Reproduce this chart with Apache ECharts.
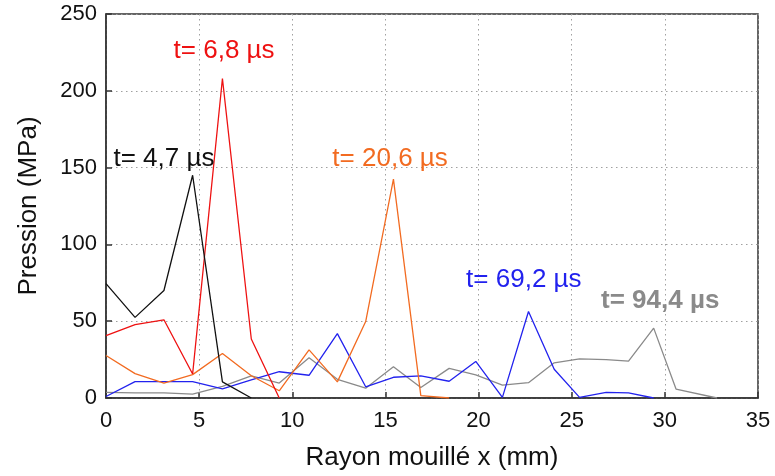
<!DOCTYPE html>
<html>
<head>
<meta charset="utf-8">
<script src="https://cdn.jsdelivr.net/npm/echarts@6/dist/echarts.min.js"></script>
<style>
  html, body { margin: 0; padding: 0; background: #fff; }
  #chart { width: 775px; height: 476px; }
</style>
</head>
<body>
<div id="chart"></div>
<script>
// Wetted radius positions (mm), shared by all time steps
const xs = [0, 1.56, 3.11, 4.65, 6.25, 7.8, 9.3, 10.9, 12.42, 13.94, 15.43, 16.9,
            18.42, 19.85, 21.28, 22.68, 24.06, 25.42, 26.85, 28.05, 29.4, 30.6, 32.8];

// Pressure (MPa) at each position, one array per time step
const p47 = [74.5, 52.5, 70, 145, 10.5, 0];
const p68 = [40.6, 47.8, 50.9, 15.6, 208, 38.4, 0];
const p206 = [27.7, 15.9, 9.7, 15.2, 29, 14.5, 4.7, 31.3, 10.5, 49.8, 142.5, 1.5, 0];
const p692 = [1, 10.7, 10.7, 10.7, 6, 11.8, 17.1, 14.8, 41.9, 7.3, 13.5, 14.4, 10.9,
              23.8, 0.4, 56.3, 18.7, 0.4, 3.6, 3.4, 0];
const p944 = [3.6, 3.4, 3.4, 2.5, 7.5, 14.4, 9.7, 26.2, 12.2, 6.4, 20.4, 6.8, 19.3,
              15, 8.4, 10, 22.9, 25.5, 25, 24, 45.5, 5.8, 0];

const xTicks = [0, 5, 10, 15, 20, 25, 30, 35];
const yTicks = [0, 50, 100, 150, 200, 250];

// Curve captions: text and anchor position in data space
const captions = [
  { text: 't= 4,7 µs', at: [3.11, 156] },
  { text: 't= 6,8 µs', at: [6.34, 226] },
  { text: 't= 20,6 µs', at: [15.25, 156] },
  { text: 't= 69,2 µs', at: [22.43, 77] },
  { text: 't= 94,4 µs', at: [29.75, 63] }
];

const FONT = "'Liberation Sans', Arial, sans-serif";

function pairs(vals) {
  return vals.map((v, i) => [xs[i], v]);
}

function makeSeries(vals, color, cap, bold) {
  return {
    type: 'line',
    data: pairs(vals),
    showSymbol: false,
    symbol: 'none',
    lineStyle: { color: color, width: 1.3 },
    itemStyle: { color: color },
    animation: false,
    silent: true,
    markPoint: {
      symbol: 'circle',
      symbolSize: 1,
      itemStyle: { color: 'rgba(0,0,0,0)' },
      silent: true,
      animation: false,
      data: [{
        coord: cap.at,
        label: {
          show: true,
          position: 'inside',
          formatter: cap.text,
          color: color,
          fontFamily: FONT,
          fontSize: 26,
          fontWeight: bold ? 'bold' : 'normal',
          align: 'center',
          verticalAlign: 'middle'
        }
      }]
    }
  };
}

const chart = echarts.init(document.getElementById('chart'), null, { renderer: 'canvas' });

chart.setOption({
  backgroundColor: '#fff',
  animation: false,
  grid: {
    left: 106, right: 17, top: 14, bottom: 74,
    show: true, borderColor: '#333', borderWidth: 1.5, backgroundColor: 'transparent'
  },
  xAxis: {
    type: 'value',
    min: xTicks[0], max: xTicks[xTicks.length - 1], interval: 5,
    name: 'Rayon mouillé x (mm)',
    nameLocation: 'middle',
    nameGap: 47,
    nameTextStyle: { fontFamily: FONT, fontSize: 26, color: '#111' },
    axisLine: { show: true, lineStyle: { color: '#333', width: 1.5 } },
    axisTick: { show: true, inside: true, length: 6, lineStyle: { color: '#333', width: 1.5 } },
    axisLabel: { fontFamily: FONT, fontSize: 22, color: '#111', margin: 12,
                 formatter: v => xTicks.includes(v) ? String(v) : '' },
    splitLine: { show: true, lineStyle: { color: '#a0a0a0', type: [1.5, 3.5], width: 1 } }
  },
  yAxis: {
    type: 'value',
    min: yTicks[0], max: yTicks[yTicks.length - 1], interval: 50,
    name: 'Pression (MPa)',
    nameLocation: 'middle',
    nameGap: 64,
    nameTextStyle: { fontFamily: FONT, fontSize: 26, color: '#111' },
    axisLine: { show: true, lineStyle: { color: '#333', width: 1.5 } },
    axisTick: { show: true, inside: true, length: 6, lineStyle: { color: '#333', width: 1.5 } },
    axisLabel: { fontFamily: FONT, fontSize: 22, color: '#111', margin: 9,
                 formatter: v => yTicks.includes(v) ? String(v) : '' },
    splitLine: { show: true, lineStyle: { color: '#a0a0a0', type: [1.5, 3.5], width: 1 } }
  },
  series: [
    makeSeries(p944, '#8a8a8a', captions[4], true),
    makeSeries(p692, '#2222ee', captions[3], false),
    makeSeries(p206, '#f26b21', captions[2], false),
    makeSeries(p68, '#ee1111', captions[1], false),
    makeSeries(p47, '#111111', captions[0], false)
  ]
});
</script>
</body>
</html>
